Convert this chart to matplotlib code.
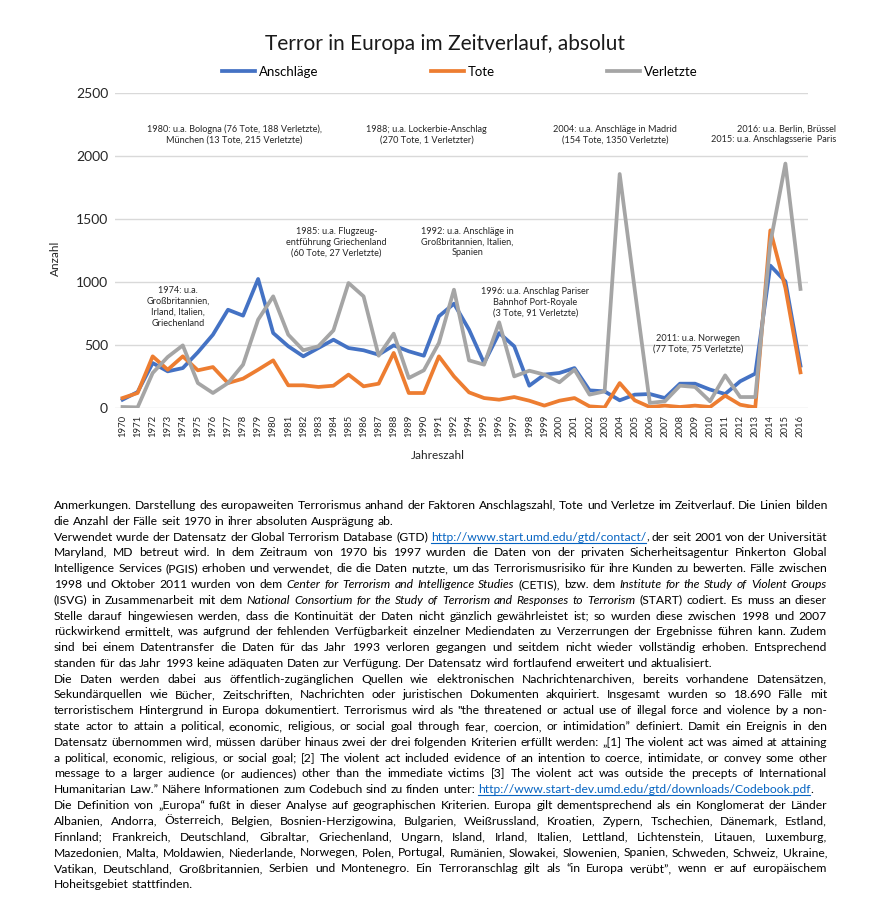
import matplotlib.pyplot as plt
from matplotlib.lines import Line2D

years = [str(y) for y in range(1970, 1993)] + [str(y) for y in range(1994, 2017)]

anschlaege = [66, 127, 357, 291, 317, 442, 582, 780, 733, 1024,
              595, 490, 410, 476, 542, 476, 458, 423, 497, 450,
              415, 728, 828, 622, 357, 595, 490, 177, 265, 278,
              317, 140, 132, 61, 106, 111, 79, 193, 193, 146,
              111, 212, 273, 1130, 1005, 336]
tote = [79, 119, 410, 304, 410, 299, 325, 198, 233, 304,
        378, 180, 180, 167, 177, 265, 172, 193, 437, 119,
        119, 410, 251, 124, 79, 66, 87, 58, 19, 58,
        79, 13, 5, 198, 61, 8, 19, 8, 19, 8,
        98, 26, 5, 1410, 953, 283]
verletzte = [8, 5, 278, 405, 497, 198, 119, 198, 344, 701,
             886, 582, 458, 490, 616, 992, 886, 415, 590, 238,
             299, 516, 939, 378, 344, 680, 251, 296, 265, 204,
             304, 106, 132, 1857, 939, 40, 53, 177, 167, 53,
             259, 87, 87, 1310, 1940, 945]

notes = [
    ("1980: u.a. Bologna (76 Tote, 188 Verletzte),\nMünchen (13 Tote, 215 Verletzte)", 7.4, 2170, 'center'),
    ("1988; u.a. Lockerbie-Anschlag\n(270 Tote, 1 Verletzter)", 20.2, 2170, 'center'),
    ("2004: u.a. Anschläge in Madrid\n(154 Tote, 1350 Verletzte)", 32.7, 2170, 'center'),
    ("2016: u.a. Berlin, Brüssel\n2015: u.a. Anschlagsserie  Paris", 47.35, 2170, 'right'),
    ("1985: u.a. Flugzeug-\nentführung Griechenland\n(60 Tote, 27 Verletzte)", 14.2, 1317, 'center'),
    ("1992: u.a. Anschläge in\nGroßbritannien, Italien,\nSpanien", 22.9, 1317, 'center'),
    ("1974: u.a.\nGroßbritannien,\nIrland, Italien,\nGriechenland", 3.7, 802, 'center'),
    ("1996: u.a. Anschlag Pariser\nBahnhof Port-Royale\n(3 Tote, 91 Verletzte)", 27.4, 837, 'center'),
    ("2011: u.a. Norwegen\n(77 Tote, 75 Verletzte)", 38.2, 512, 'center'),
]

# body text, one entry per printed line: (segments, justified)
# style: n = normal, i = italic, l = link
body = [
    ([("Anmerkungen. Darstellung des europaweiten Terrorismus anhand der Faktoren Anschlagszahl, Tote und Verletze im Zeitverlauf. Die Linien bilden", 'n')], True),
    ([("die Anzahl der Fälle seit 1970 in ihrer absoluten Ausprägung ab.", 'n')], False),
    ([("Verwendet wurde der Datensatz der Global Terrorism Database (GTD) ", 'n'), ("http://www.start.umd.edu/gtd/contact/", 'l'), (", der seit 2001 von der Universität", 'n')], True),
    ([("Maryland, MD betreut wird. In dem Zeitraum von 1970 bis 1997 wurden die Daten von der privaten Sicherheitsagentur Pinkerton Global", 'n')], True),
    ([("Intelligence Services (PGIS) erhoben und verwendet, die die Daten nutzte, um das Terrorismusrisiko für ihre Kunden zu bewerten. Fälle zwischen", 'n')], True),
    ([("1998 und Oktober 2011 wurden von dem ", 'n'), ("Center for Terrorism and Intelligence Studies", 'i'), (" (CETIS), bzw. dem ", 'n'), ("Institute for the Study of Violent Groups", 'i')], True),
    ([("(ISVG) in Zusammenarbeit mit dem ", 'n'), ("National Consortium for the Study of Terrorism and Responses to Terrorism", 'i'), (" (START) codiert. Es muss an dieser", 'n')], True),
    ([("Stelle darauf hingewiesen werden, dass die Kontinuität der Daten nicht gänzlich gewährleistet ist; so wurden diese zwischen 1998 und 2007", 'n')], True),
    ([("rückwirkend ermittelt, was aufgrund der fehlenden Verfügbarkeit einzelner Mediendaten zu Verzerrungen der Ergebnisse führen kann. Zudem", 'n')], True),
    ([("sind bei einem Datentransfer die Daten für das Jahr 1993 verloren gegangen und seitdem nicht wieder vollständig erhoben. Entsprechend", 'n')], True),
    ([("standen für das Jahr 1993 keine adäquaten Daten zur Verfügung. Der Datensatz wird fortlaufend erweitert und aktualisiert.", 'n')], False),
    ([("Die Daten werden dabei aus öffentlich-zugänglichen Quellen wie elektronischen Nachrichtenarchiven, bereits vorhandene Datensätzen,", 'n')], True),
    ([("Sekundärquellen wie Bücher, Zeitschriften, Nachrichten oder juristischen Dokumenten akquiriert. Insgesamt wurden so 18.690 Fälle mit", 'n')], True),
    ([("terroristischem Hintergrund in Europa dokumentiert. Terrorismus wird als \"the threatened or actual use of illegal force and violence by a non-", 'n')], True),
    ([("state actor to attain a political, economic, religious, or social goal through fear, coercion, or intimidation\u201d definiert. Damit ein Ereignis in den", 'n')], True),
    ([("Datensatz übernommen wird, müssen darüber hinaus zwei der drei folgenden Kriterien erfüllt werden: \u201e[1] The violent act was aimed at attaining", 'n')], True),
    ([("a political, economic, religious, or social goal; [2] The violent act included evidence of an intention to coerce, intimidate, or convey some other", 'n')], True),
    ([("message to a larger audience (or audiences) other than the immediate victims [3] The violent act was outside the precepts of International", 'n')], True),
    ([("Humanitarian Law.\u201d Nähere Informationen zum Codebuch sind zu finden unter: ", 'n'), ("http://www.start-dev.umd.edu/gtd/downloads/Codebook.pdf", 'l'), (".", 'n')], False),
    ([("Die Definition von \u201eEuropa\u201c fußt in dieser Analyse auf geographischen Kriterien. Europa gilt dementsprechend als ein Konglomerat der Länder", 'n')], True),
    ([("Albanien, Andorra, Österreich, Belgien, Bosnien-Herzigowina, Bulgarien, Weißrussland, Kroatien, Zypern, Tschechien, Dänemark, Estland,", 'n')], True),
    ([("Finnland; Frankreich, Deutschland, Gibraltar, Griechenland, Ungarn, Island, Irland, Italien, Lettland, Lichtenstein, Litauen, Luxemburg,", 'n')], True),
    ([("Mazedonien, Malta, Moldawien, Niederlande, Norwegen, Polen, Portugal, Rumänien, Slowakei, Slowenien, Spanien, Schweden, Schweiz, Ukraine,", 'n')], True),
    ([("Vatikan, Deutschland, Großbritannien, Serbien und Montenegro. Ein Terroranschlag gilt als \u201cin Europa verübt\u201d, wenn er auf europäischem", 'n')], True),
    ([("Hoheitsgebiet stattfinden.", 'n')], False),
]

W, H = 890, 914
FONT = 'Lato'
fig = plt.figure(figsize=(W / 100, H / 100), dpi=100)

ax = fig.add_axes([115 / W, 1 - 408 / H, 693 / W, 315 / H])
x = list(range(len(years)))
ax.plot(x, anschlaege, color='#4472C4', lw=2.7, label='Anschläge')
ax.plot(x, tote, color='#ED7D31', lw=2.7, label='Tote')
ax.plot(x, verletzte, color='#A5A5A5', lw=2.7, label='Verletzte')

ax.set_xlim(-0.5, len(years) - 0.5)
ax.set_ylim(0, 2500)
ax.set_yticks(range(0, 2501, 500))
ax.set_xticks(x)
ax.set_xticklabels(years, rotation=90, fontsize=6.8, family=FONT, color='#262626')
for lab in ax.get_yticklabels():
    lab.set_family(FONT)
    lab.set_fontsize(10)
    lab.set_color('#262626')
ax.tick_params(length=0, pad=5)
ax.grid(axis='y', color='#D9D9D9', lw=1)
ax.set_axisbelow(True)
for s in ax.spines.values():
    s.set_visible(False)

for txt, nx, ny, ha in notes:
    ax.text(nx, ny, txt, ha=ha, va='center', fontsize=6.6, family=FONT,
            color='#262626', linespacing=1.25)

fig.text(445 / W, 1 - 44 / H, 'Terror in Europa im Zeitverlauf, absolut',
         ha='center', va='center', fontsize=15, family=FONT, color='#1a1a1a')
fig.legend(loc='center', bbox_to_anchor=(460 / W, 1 - 72 / H), ncol=3,
           frameon=False, handlelength=2.5, handletextpad=0.3, columnspacing=8.5,
           prop={'family': FONT, 'size': 9.5})
fig.text(55 / W, 1 - 258 / H, 'Anzahl', rotation=90, ha='center', va='center',
         fontsize=8.5, family=FONT, color='#262626')
fig.text(438 / W, 1 - 455 / H, 'Jahreszahl', ha='center', va='center',
         fontsize=8.5, family=FONT, color='#262626')

# justified body text
fs = 8.75
left, right = 54, 827
renderer = fig.canvas.get_renderer()


def word(s, style):
    kw = dict(fontsize=fs, family=FONT, color='black', ha='left', va='baseline')
    if style == 'i':
        kw['style'] = 'italic'
    if style == 'l':
        kw['color'] = '#0563C1'
    return fig.text(0, 0, s, **kw)


probe1 = word('n n', 'n')
probe2 = word('nn', 'n')
space = probe1.get_window_extent(renderer).width - probe2.get_window_extent(renderer).width
probe1.remove()
probe2.remove()

for k, (segs, justify) in enumerate(body):
    tokens = []
    pending = False
    for text, style in segs:
        parts = text.split(' ')
        for i, p in enumerate(parts):
            if p == '':
                continue
            gap = bool(tokens) and (i > 0 or pending)
            tokens.append((word(p, style), style, gap))
        pending = text.endswith(' ')
    widths = [t[0].get_window_extent(renderer).width for t in tokens]
    ngaps = sum(1 for t in tokens if t[2])
    natural = sum(widths) + ngaps * space
    sp = space
    if justify and ngaps:
        sp = space + (right - left - natural) / ngaps
    yb = 1 - (509 + k * 15.79) / H
    cx = left
    for (t, style, gap), w in zip(tokens, widths):
        if gap:
            cx += sp
        t.set_position((cx / W, yb))
        if style == 'l':
            fig.add_artist(Line2D([cx / W, (cx + w) / W], [yb - 2 / H, yb - 2 / H],
                                  color='#0563C1', lw=0.8))
        cx += w

fig.savefig('out.png', dpi=100)
